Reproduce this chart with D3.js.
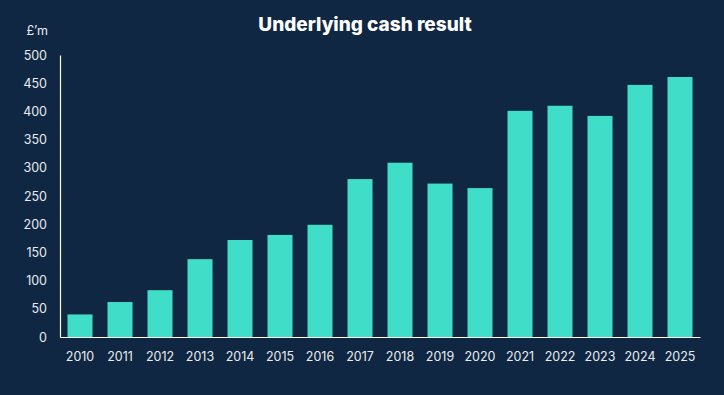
<!DOCTYPE html>
<html>
<head>
<meta charset="utf-8">
<script src="https://cdn.jsdelivr.net/npm/d3@7"></script>
<style>
  html, body { margin: 0; padding: 0; background: #0f2742; }
  svg { display: block; }
</style>
</head>
<body>
<svg width="724" height="395"></svg>
<script>
const years = ['2010', '2011', '2012', '2013', '2014', '2015', '2016', '2017',
  '2018', '2019', '2020', '2021', '2022', '2023', '2024', '2025'];
const cash = [40, 62, 83, 138, 172, 181, 199, 280, 309, 272, 264, 401, 410, 392, 447, 461];
const yTicks = [0, 50, 100, 150, 200, 250, 300, 350, 400, 450, 500];

const svg = d3.select('svg');
const width = 724;
const height = 395;
const font = 'Inter, "Open Sans", sans-serif';

svg.append('rect')
  .attr('width', width)
  .attr('height', height)
  .attr('fill', '#0f2742');

const x = d3.scaleBand()
  .domain(years)
  .range([60, 700])
  .paddingInner(0.375)
  .paddingOuter(0.1875);

const y = d3.scaleLinear()
  .domain([0, 500])
  .range([337, 55]);

// bars
svg.append('g')
  .selectAll('rect')
  .data(cash)
  .join('rect')
  .attr('x', (d, i) => x(years[i]))
  .attr('y', d => y(d))
  .attr('width', x.bandwidth())
  .attr('height', d => y(0) - y(d))
  .attr('fill', '#40dec8');

// y axis
const yAxis = svg.append('g')
  .attr('transform', 'translate(60,0)')
  .call(d3.axisLeft(y).tickValues(yTicks).tickSize(0).tickPadding(13));
yAxis.select('.domain').attr('stroke', '#ffffff').attr('stroke-width', 1.2);
yAxis.selectAll('text')
  .attr('fill', '#e9ecf0')
  .style('font-family', font)
  .style('font-size', '12.5px');

// x axis
const xAxis = svg.append('g')
  .attr('transform', 'translate(0,337)')
  .call(d3.axisBottom(x).tickSize(0).tickPadding(15));
xAxis.select('.domain').attr('stroke', '#ffffff').attr('stroke-width', 1.2);
xAxis.selectAll('text')
  .attr('fill', '#e9ecf0')
  .style('font-family', font)
  .style('font-size', '12.5px');

// unit label
svg.append('text')
  .attr('x', 48)
  .attr('y', 35)
  .attr('text-anchor', 'end')
  .attr('fill', '#e9ecf0')
  .style('font-family', font)
  .style('font-size', '12.5px')
  .text('£\u2019m');

// title
svg.append('text')
  .attr('x', 365)
  .attr('y', 31)
  .attr('text-anchor', 'middle')
  .attr('fill', '#ffffff')
  .style('font-family', font)
  .style('font-weight', 800)
  .style('font-size', '19px')
  .text('Underlying cash result');
</script>
</body>
</html>
